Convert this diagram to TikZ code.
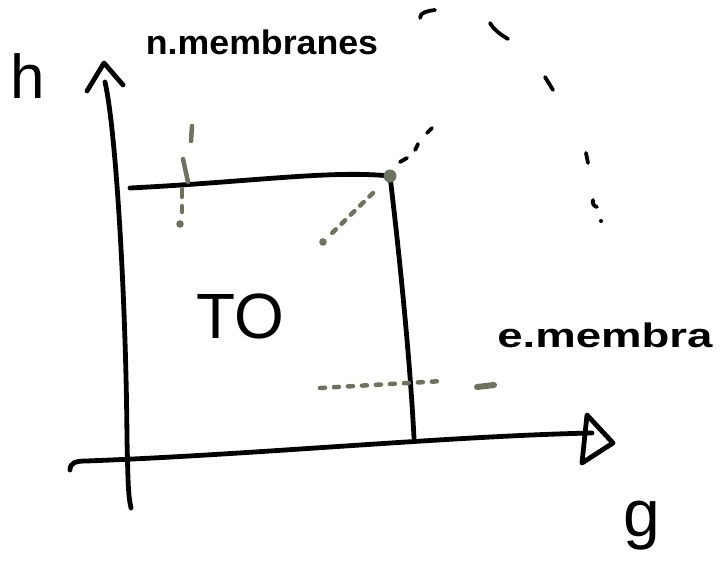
\documentclass[tikz,border=0pt]{standalone}
\usepackage{fontspec}
\setmainfont{Liberation Sans}
\definecolor{sketchgray}{RGB}{110,115,95}
\begin{document}
\begin{tikzpicture}[x=1pt,y=-1pt,
  ink/.style={draw=black,line width=4.8pt,line cap=round,line join=round},
  thinink/.style={draw=black,line width=3.8pt,line cap=round},
  grayink/.style={draw=sketchgray,line width=4.5pt,line cap=round},
  lbl/.style={inner sep=0pt,text=black}]
\useasboundingbox (0,0) rectangle (724,561);
% key points
\coordinate (vtop) at (105,82);
\coordinate (vbot) at (131,508);
\coordinate (hstart) at (70,470);
\coordinate (hend) at (592,433);
\coordinate (corner) at (390,176);
\coordinate (rleft) at (130,188);
\coordinate (rbot) at (414,438);
% vertical axis
\draw[ink] (vtop) .. controls (116,130) and (126,300) .. (127,440) .. controls (128,480) and (128,495) .. (vbot);
\coordinate (ua) at (87,91);
\coordinate (ut) at (104,63);
\coordinate (ub) at (123,85);
\draw[ink] (ua) -- (ut) -- (ub);
% horizontal axis
\draw[ink] (hstart) .. controls (70,463) and (75,461) .. (86,461) .. controls (250,455) and (450,436) .. (hend);
\coordinate (ta) at (587,415);
\coordinate (tb) at (613,443);
\coordinate (tc) at (582,463);
\draw[ink] (ta) -- (tb) -- (tc) -- cycle;
% rectangle
\draw[ink] (rleft) .. controls (250,182) and (330,170) .. (corner);
\draw[ink] (corner) .. controls (400,260) and (410,360) .. (rbot);
% gray vertical dashes
\draw[grayink] (192,126) -- (191,141);
\draw[grayink] (183,159) -- (188,182);
\draw[grayink] (182,189) -- (182,197);
\draw[grayink] (182,206) -- (182,212);
\fill[sketchgray] (180,224) circle (3.8);
% gray diagonal dots
\coordinate (dgA) at (373,193);
\coordinate (dgB) at (327,238);
\draw[grayink,dash pattern=on 5pt off 8pt] (dgA) -- (dgB);
\fill[sketchgray] (323,242) circle (3.8);
% gray horizontal dots
\coordinate (hgA) at (320,388);
\coordinate (hgB) at (443,381);
\draw[grayink,dash pattern=on 5pt off 9pt] (hgA) -- (hgB);
\coordinate (blA) at (477,387);
\coordinate (blB) at (494,385);
\draw[sketchgray,line width=6pt,line cap=round] (blA) -- (blB);
% corner dot
\fill[sketchgray] (corner) circle (6.5);
% black dashes from corner
\draw[thinink] (400,162) -- (407,158);
\draw[thinink] (415,150) -- (418,144);
\draw[thinink] (427,133) -- (432,128);
% big dashed arc
\draw[thinink] (420,18) .. controls (420,12) and (428,11) .. (435,10);
\draw[thinink] (490,23) .. controls (495,31) and (500,34) .. (508,39);
\draw[thinink] (545,77) -- (553,90);
\draw[thinink] (586,153) -- (588,163);
\draw[thinink] (593,200) .. controls (592,204) and (594,206) .. (597,207);
\fill (601,221) circle (2);
% labels
\node[lbl,font=\fontsize{62}{62}\selectfont] (hlab) at (28,76) {h};
\node[lbl,font=\fontsize{34}{34}\selectfont\bfseries,xscale=1.05] (nlab) at (262,42) {n.membranes};
\node[lbl,font=\fontsize{34}{34}\selectfont\bfseries,anchor=west,xscale=1.34] (elab) at (497,335) {e.membra};
\node[lbl,font=\fontsize{66}{66}\selectfont] (glab) at (642,526) {g};
\node[lbl,font=\fontsize{64}{64}\selectfont] (tolab) at (240,316) {TO};
\end{tikzpicture}
\end{document}
